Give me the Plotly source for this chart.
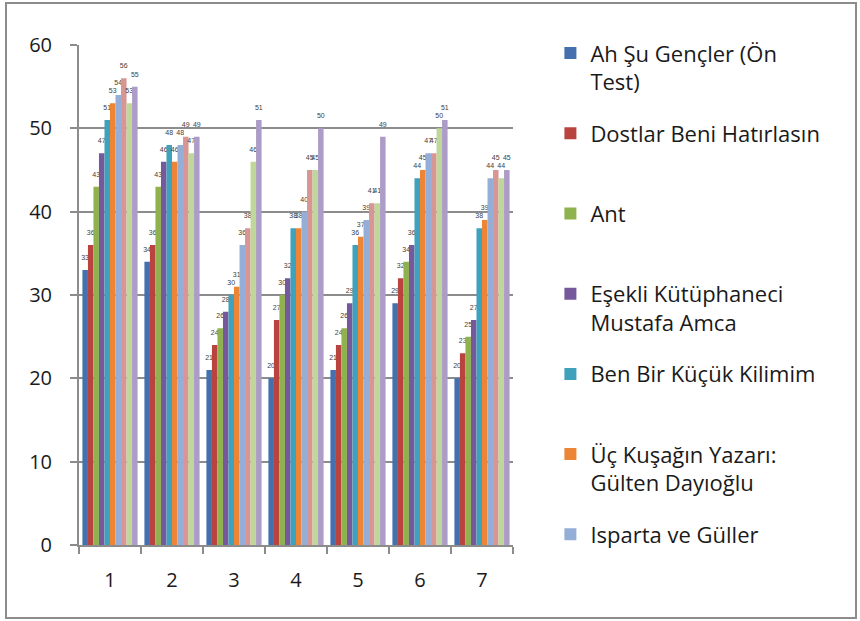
import plotly.graph_objects as go

categories = ["1", "2", "3", "4", "5", "6", "7"]

series_names = [
    "Ah Şu Gençler (Ön<br>Test)",
    "Dostlar Beni Hatırlasın",
    "Ant",
    "Eşekli Kütüphaneci<br>Mustafa Amca",
    "Ben Bir Küçük Kilimim",
    "Üç Kuşağın Yazarı:<br>Gülten Dayıoğlu",
    "Isparta ve Güller",
    "Seri 8",
    "Seri 9",
    "Seri 10",
]

s1 = [33, 34, 21, 20, 21, 29, 20]
s2 = [36, 36, 24, 27, 24, 32, 23]
s3 = [43, 43, 26, 30, 26, 34, 25]
s4 = [47, 46, 28, 32, 29, 36, 27]
s5 = [51, 48, 30, 38, 36, 44, 38]
s6 = [53, 46, 31, 38, 37, 45, 39]
s7 = [54, 48, 36, 40, 39, 47, 44]
s8 = [56, 49, 38, 45, 41, 47, 45]
s9 = [53, 47, 46, 45, 41, 50, 44]
s10 = [55, 49, 51, 50, 49, 51, 45]
values = [s1, s2, s3, s4, s5, s6, s7, s8, s9, s10]

colors = ["#4470AE", "#B8433F", "#90B24E", "#75599C", "#40A1BC",
          "#EC8636", "#94AED7", "#D79593", "#C0D79A", "#AC9CC7"]

legend_shown = 7
FONT = "Open Sans"
label_font = dict(size=7, color="#404040", family="Liberation Sans")

fig = go.Figure()
for i, (name, vals, col) in enumerate(zip(series_names, values, colors)):
    if "<br>" in name or i == legend_shown - 1:
        label = name
    else:
        label = name + "<br>\u00a0"
    fig.add_trace(go.Bar(
        x=categories, y=vals, name=label,
        marker=dict(color=col, line=dict(width=0)),
        text=[f"{v}<br>\u00a0" for v in vals],
        textposition="outside",
        textfont=label_font,
        outsidetextfont=label_font,
        constraintext="none",
        cliponaxis=False,
        showlegend=i < legend_shown,
        legendgroup=f"g{i}",
    ))

fig.update_layout(
    width=860, height=621,
    margin=dict(l=79, r=347, t=45, b=76),
    paper_bgcolor="white", plot_bgcolor="white",
    barmode="group", bargap=0.11, bargroupgap=0,
    font=dict(family=FONT, color="#1a1a1a"),
    showlegend=True,
    legend=dict(
        xref="container", yref="container",
        x=0.640, y=0.948, xanchor="left", yanchor="top",
        font=dict(size=22, family=FONT, color="#1a1a1a"),
        valign="top", tracegroupgap=20, traceorder="grouped",
        itemwidth=30, maxheight=600,
    ),
    xaxis=dict(
        type="category", showline=True, linecolor="#8C8C8C", linewidth=2,
        ticks="outside", ticklen=7, tickcolor="#8C8C8C", tickwidth=2,
        tickson="boundaries", tickfont=dict(size=20, family=FONT, color="#1a1a1a"),
        ticklabelstandoff=16, showgrid=False,
    ),
    yaxis=dict(
        range=[0, 60], dtick=10, showline=True, linecolor="#8C8C8C", linewidth=2,
        ticks="outside", ticklen=7, tickcolor="#8C8C8C", tickwidth=2,
        tickfont=dict(size=20, family=FONT, color="#1a1a1a"),
        ticklabelstandoff=14, showgrid=True, gridcolor="#8C8C8C", gridwidth=2,
        zeroline=False,
    ),
    shapes=[dict(type="rect", xref="paper", yref="paper",
                 x0=(6 - 79) / 434, x1=(856 - 79) / 434,
                 y0=(545 - 618) / 500, y1=(545 - 3) / 500,
                 line=dict(color="#8C8C8C", width=2), fillcolor="rgba(0,0,0,0)")],
)

fig.write_html(
    "out.html",
    config={"displayModeBar": False},
    post_script="document.body.style.margin='0';document.body.style.overflow='hidden';",
)
